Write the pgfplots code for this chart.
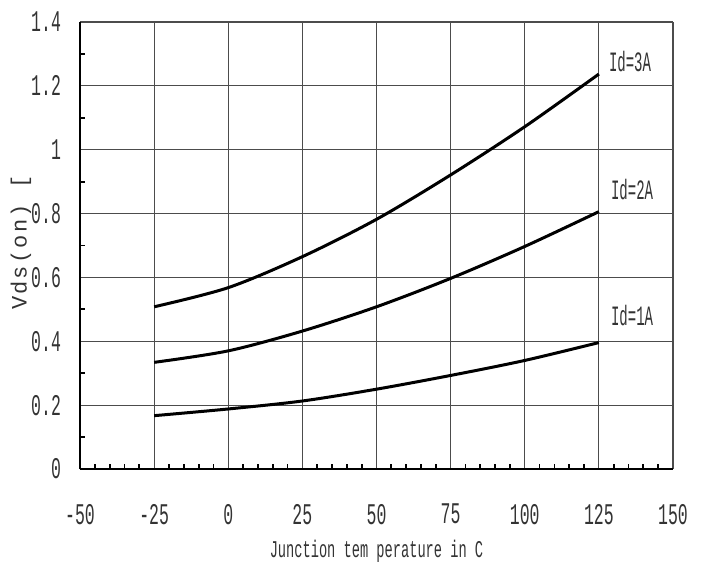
\documentclass[border=0pt]{standalone}
\usepackage{fontspec}
\setmainfont[FakeStretch=0.55]{Liberation Mono}
\newfontfamily\labfont[LetterSpace=10]{Liberation Mono}
\newfontfamily\curvefont[FakeStretch=0.5]{Liberation Mono}
\newfontfamily\xlabfont[FakeStretch=0.57]{Liberation Mono}
\usepackage{pgfplots}
\pgfplotsset{compat=1.18}
\begin{document}
\begin{tikzpicture}
\useasboundingbox (-40pt,-51pt) rectangle (312.5pt,234.5pt);
\begin{axis}[
  at={(0,0)}, anchor=south west,
  scale only axis, width=296.5pt, height=223.5pt,
  xmin=-50, xmax=150, ymin=0, ymax=1.4,
  xtick={-50,-25,0,25,50,75,100,125,150},
  ytick={0,0.2,0.4,0.6,0.8,1,1.2,1.4},
  minor x tick num=4, minor y tick num=1,
  axis x line=bottom, axis y line=left,
  axis line style={line width=1.4pt,-},
  tick align=inside,
  major tick length=0pt, minor tick length=2.5pt,
  every minor tick/.style={line width=0.9pt,black},
  grid=major,
  major grid style={line width=0.6pt,black!70},
  /pgf/number format/assume math mode=true,
  ticklabel style={font=\fontsize{15}{15}\selectfont, text=black!80},
  xticklabel style={yshift=-14pt},
  yticklabel style={xshift=-6pt},
  xlabel={\xlabfont\fontsize{12}{12}\selectfont Junction tem perature in C},
  xlabel style={yshift=-1pt, text=black!80},
  ylabel={\labfont\fontsize{11}{11}\selectfont Vds(on) [},
  ylabel style={at={(axis description cs:-0.0995,0.506)}, anchor=center, inner sep=0pt, text=black!80},
  clip=false,
]
\addplot[black, line width=1.5pt, smooth] coordinates {
 (-25,0.508) (0,0.568) (25,0.665) (50,0.782) (75,0.921) (100,1.072) (125,1.237)};
\addplot[black, line width=1.5pt, smooth] coordinates {
 (-25,0.334) (0,0.370) (25,0.432) (50,0.508) (75,0.597) (100,0.697) (125,0.806)};
\addplot[black, line width=1.5pt, smooth] coordinates {
 (-25,0.167) (0,0.188) (25,0.213) (50,0.250) (75,0.293) (100,0.340) (125,0.396)};
\node[font=\curvefont\fontsize{14}{14}\selectfont, text=black!80] at (axis cs:135.5,1.275) {Id=3A};
\node[font=\curvefont\fontsize{14}{14}\selectfont, text=black!80] at (axis cs:136.2,0.874) {Id=2A};
\node[font=\curvefont\fontsize{14}{14}\selectfont, text=black!80] at (axis cs:136.2,0.482) {Id=1A};
\end{axis}
\end{tikzpicture}
\end{document}
